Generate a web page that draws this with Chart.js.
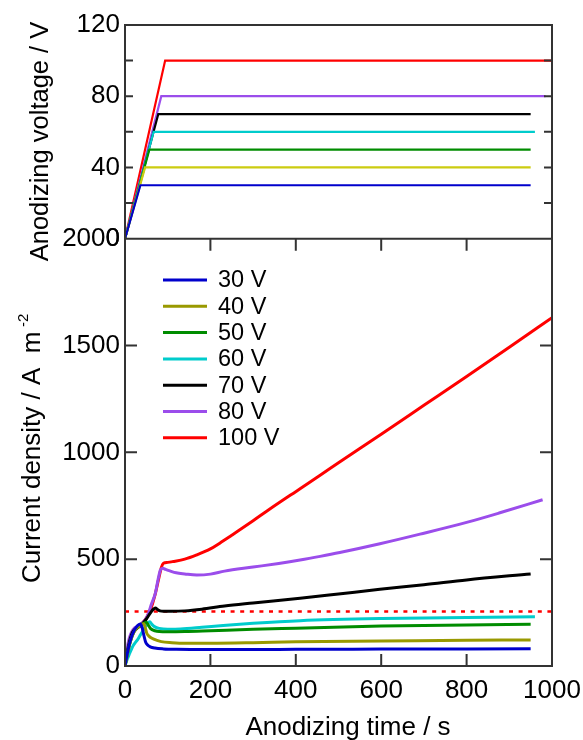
<!DOCTYPE html>
<html><head><meta charset="utf-8">
<script src="https://cdn.jsdelivr.net/npm/chart.js@4.4.1/dist/chart.umd.min.js"></script>
<style>html,body{margin:0;padding:0;background:#fff}#wrap{width:583px;height:740px;position:relative}canvas{display:block}</style>
</head><body><div id="wrap"><canvas id="c" width="583" height="740"></canvas></div>
<script>
// ---- data ----
const seriesLabels = ['30 V','40 V','50 V','60 V','70 V','80 V','100 V'];
const voltageLevels = [30, 40, 50, 60, 70, 80, 100];
const rampEndTime = [36, 47, 57, 67, 78, 85, 94];
const holdEndTime = [950, 950, 950, 960, 950, 985, 1000];
const currentColors = ['#0000cc', '#999900', '#008c00', '#00cccc', '#000000', '#9b4deb', '#ff0000'];
const voltageColors = ['#0000cc', '#cccc11', '#008c00', '#00cccc', '#000000', '#9b4deb', '#ff0000'];
const refCurrent = 255;

const t30 = [0,5,10,15,20,25,30,36,40,44,48,53,59,70,90,120,200,300,400,600,800,950];
const i30 = [0,55,100,135,160,178,190,196,180,145,114,98,90,84,80,78,77,77,78,79,80,81];
const t40 = [0,5,10,15,20,25,30,35,40,44,48,51,56,63,75,85,110,140,200,300,400,600,800,950];
const i40 = [0,50,95,130,155,172,182,190,196,198,175,153,140,130,120,114,109,106,106,109,114,117,120,122];
const t50 = [0,5,10,15,20,25,30,35,40,45,50,55,60,70,80,100,140,200,300,400,600,800,950];
const i50 = [0,50,95,130,155,170,180,188,195,200,205,190,175,165,161,160,161,165,172,177,187,192,195];
const t60 = [0,5,10,15,20,25,30,36,42,48,53,58,63,70,80,100,130,180,230,300,410,600,800,960];
const i60 = [0,30,55,78,98,112,125,145,165,185,200,207,195,183,176,172,173,181,190,200,212,222,227,230];
const t70 = [0,5,10,15,20,30,40,50,60,66,71,76,82,90,110,140,180,233,300,410,500,597,700,800,950];
const i70 = [0,60,110,145,165,180,195,220,250,265,272,264,258,256,256,258,266,281,295,317,337,359,380,403,431];
const t80 = [0,5,10,16,22,28,36,44,50,55,62,71,78,83,88,95,105,120,140,168,200,233,300,360,410,457,503,597,691,800,878,978];
const i80 = [0,80,130,161,178,184,195,208,225,247,290,340,410,450,458,452,445,436,431,426,430,444,463,480,496,513,531,572,617,672,717,778];
const t100 = [0,5,10,20,30,40,50,60,70,78,85,90,100,113,140,168,200,222,250,262,300,340,410,457,500,600,700,800,900,1000];
const i100 = [0,60,110,160,180,200,225,265,330,400,460,481,485,489,500,520,548,575,612,628,680,736,830,893,951,1085,1220,1355,1492,1630];

const timeArrays = [t30, t40, t50, t60, t70, t80, t100];
const currentArrays = [i30, i40, i50, i60, i70, i80, i100];

// ---- build datasets ----
const toPoints = (xs, ys) => xs.map((x, k) => ({x: x, y: ys[k]}));
const currentSets = seriesLabels.map((lab, k) => ({
  label: lab,
  data: toPoints(timeArrays[k], currentArrays[k]),
  yAxisID: 'yI',
  borderColor: currentColors[k],
  borderWidth: 3,
  pointRadius: 0,
  cubicInterpolationMode: 'monotone',
  fill: false
}));
const voltageSets = seriesLabels.map((lab, k) => ({
  label: 'V ' + lab,
  data: toPoints([0, rampEndTime[k], holdEndTime[k]], [0, voltageLevels[k], voltageLevels[k]]),
  yAxisID: 'yV',
  borderColor: voltageColors[k],
  borderWidth: 2.2,
  pointRadius: 0,
  tension: 0,
  fill: false
}));
const refSet = {
  label: 'ref',
  data: toPoints([0, 1000], [refCurrent, refCurrent]),
  yAxisID: 'yI',
  borderColor: '#ff0000',
  borderWidth: 2.5,
  borderDash: [4, 5.6],
  pointRadius: 0,
  fill: false
};

const FONT = "'Liberation Sans', Arial, sans-serif";

const framePlugin = {
  id: 'frame',
  afterDraw(chart) {
    const ctx = chart.ctx;
    const a = chart.chartArea;
    const x = chart.scales.x, yV = chart.scales.yV, yI = chart.scales.yI;
    ctx.save();
    ctx.strokeStyle = '#333';
    ctx.lineWidth = 2;
    ctx.lineCap = 'butt';
    ctx.strokeRect(a.left, a.top, a.right - a.left, a.bottom - a.top);
    const sep = yI.getPixelForValue(2000);
    ctx.beginPath(); ctx.moveTo(a.left, sep); ctx.lineTo(a.right, sep); ctx.stroke();
    ctx.beginPath();
    for (let v = 20; v < 120; v += 20) {
      const p = yV.getPixelForValue(v);
      ctx.moveTo(a.left, p); ctx.lineTo(a.left + 8, p);
      ctx.moveTo(a.right, p); ctx.lineTo(a.right - 8, p);
    }
    for (let v = 500; v < 2000; v += 500) {
      const p = yI.getPixelForValue(v);
      ctx.moveTo(a.left, p); ctx.lineTo(a.left + 12, p);
      ctx.moveTo(a.right, p); ctx.lineTo(a.right - 12, p);
    }
    for (let t = 200; t < 1000; t += 200) {
      const p = x.getPixelForValue(t);
      ctx.moveTo(p, a.bottom); ctx.lineTo(p, a.bottom - 12);
      ctx.moveTo(p, sep); ctx.lineTo(p, sep + 12);
    }
    ctx.stroke();

    // legend (current series)
    ctx.font = '23.5px ' + FONT;
    ctx.textBaseline = 'middle';
    ctx.textAlign = 'left';
    currentSets.forEach((ds, k) => {
      const yy = 280 + k * 26.3;
      ctx.strokeStyle = ds.borderColor;
      ctx.lineWidth = 3;
      ctx.beginPath(); ctx.moveTo(163, yy); ctx.lineTo(207, yy); ctx.stroke();
      ctx.fillStyle = '#000';
      ctx.fillText(ds.label, 218, yy + 1);
    });

    // axis titles
    ctx.fillStyle = '#000';
    ctx.textBaseline = 'alphabetic';
    ctx.font = '26px ' + FONT;
    ctx.textAlign = 'center';
    ctx.fillText('Anodizing time / s', 348, 735);

    ctx.save();
    ctx.rotate(-Math.PI / 2);
    ctx.textAlign = 'center';
    ctx.font = '25.5px ' + FONT;
    ctx.fillText('Anodizing voltage / V', -141.5, 48);
    ctx.textAlign = 'left';
    ctx.font = '26px ' + FONT;
    ctx.fillText('Current density / A  m', -583, 39.5);
    ctx.font = '15px ' + FONT;
    ctx.fillText('-2', -327, 28);
    ctx.restore();
    ctx.restore();
  }
};

const tickFont = {family: FONT, size: 26};
const plain = v => String(v);

new Chart(document.getElementById('c'), {
  type: 'line',
  data: { datasets: [...currentSets, refSet, ...voltageSets] },
  options: {
    responsive: false,
    animation: false,
    devicePixelRatio: 1,
    layout: { padding: { top: 25, right: 31, left: 0, bottom: 0 } },
    plugins: { legend: { display: false }, tooltip: { enabled: false } },
    scales: {
      x: {
        type: 'linear', position: 'bottom', min: 0, max: 1000,
        ticks: { stepSize: 200, color: '#000', font: tickFont, padding: 9, maxRotation: 0, callback: plain },
        grid: { display: false, drawTicks: false },
        border: { display: false },
        afterFit(s) { s.height = 74; s.paddingRight = 0; s.paddingLeft = 0; }
      },
      yI: {
        type: 'linear', position: 'left', stack: 'panels', stackWeight: 2, min: 0, max: 2000,
        ticks: { stepSize: 500, color: '#000', font: tickFont, padding: 5, callback: plain },
        grid: { display: false, drawTicks: false },
        border: { display: false },
        afterFit(s) { s.width = 125; }
      },
      yV: {
        type: 'linear', position: 'left', stack: 'panels', stackWeight: 1, min: 0, max: 120,
        ticks: { stepSize: 40, color: '#000', font: tickFont, padding: 5, callback: plain },
        grid: { display: false, drawTicks: false },
        border: { display: false },
        afterFit(s) { s.width = 125; }
      }
    }
  },
  plugins: [framePlugin]
});
</script>
</body></html>
